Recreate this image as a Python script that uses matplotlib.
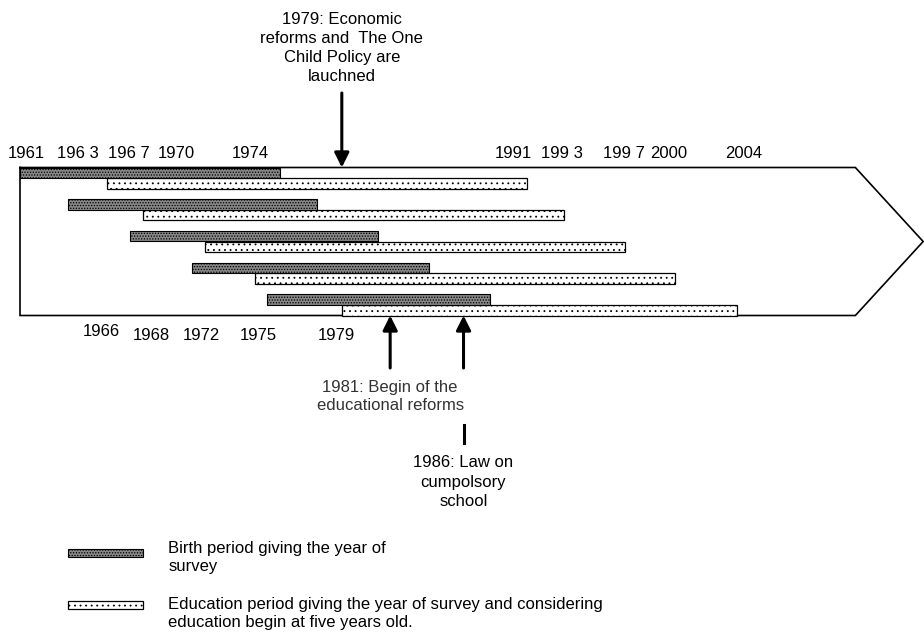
import matplotlib
matplotlib.use("Agg")
import matplotlib.pyplot as plt

plt.rcParams['font.family'] = ['Liberation Sans', 'DejaVu Sans']
plt.rcParams['hatch.linewidth'] = 0.6

# survey rows: birth period and education period (years)
birth_start = [1961.0, 1963.9, 1967.6, 1971.3, 1975.8]
birth_end = [1976.6, 1978.8, 1982.5, 1985.5, 1989.2]
edu_start = [1966.2, 1968.4, 1972.1, 1975.1, 1980.3]
edu_end = [1991.4, 1993.6, 1997.3, 2000.3, 2004.0]

top_labels = ['1961', '196 3', '196 7', '1970', '1974', '1991', '199 3', '199 7', '2000', '2004']
top_label_pos = [1961.4, 1964.5, 1967.5, 1970.4, 1974.8, 1990.6, 1993.5, 1997.2, 1999.9, 2004.4]
bottom_labels = ['1966', '1968', '1972', '1975', '1979']
bottom_label_pos = [1965.9, 1968.9, 1971.9, 1975.3, 1980.0]

# policy events: arrow position on the timeline
event_reform = 1980.3      # 1979 economic reforms / one child policy
event_edu = 1983.2         # 1981 educational reforms
event_law = 1987.6         # 1986 compulsory school law

# layout (pixels, y axis runs downwards)
PX_PER_YEAR = 16.674
x_lo = 1961 - 20 / PX_PER_YEAR
x_hi = x_lo + 924 / PX_PER_YEAR
ROW0 = 167.5
ROW_STEP = 31.7
BAR_H = 10.6

birth_style = dict(facecolor='#868686', edgecolor='black', hatch='......', linewidth=0.8)
edu_style = dict(facecolor='white', edgecolor='black', hatch='...', linewidth=0.9)

fig = plt.figure(figsize=(9.24, 6.39), dpi=100)
ax = fig.add_axes([0, 0, 1, 1])
ax.set_xlim(x_lo, x_hi)
ax.set_ylim(639, 0)
ax.axis('off')

# arrow shaped frame
frame_bottom = ROW0 + 4 * ROW_STEP + 2 * BAR_H
shoulder = 2011.1
ax.plot([1961, shoulder, x_hi - 0.05, shoulder, 1961, 1961],
        [ROW0, ROW0, (ROW0 + frame_bottom) / 2, frame_bottom, frame_bottom, ROW0],
        color='black', lw=1.2, zorder=1, solid_joinstyle='miter')

rows = range(len(birth_start))
birth_y = [ROW0 + i * ROW_STEP for i in rows]
edu_y = [y + BAR_H for y in birth_y]
ax.barh(birth_y, [e - s for s, e in zip(birth_start, birth_end)], left=birth_start,
        height=BAR_H, align='edge', zorder=3, **birth_style)
ax.barh(edu_y, [e - s for s, e in zip(edu_start, edu_end)], left=edu_start,
        height=BAR_H, align='edge', zorder=2, **edu_style)

for lab, x in zip(top_labels, top_label_pos):
    ax.text(x, 153, lab, ha='center', va='center', fontsize=12)
for i, (lab, x) in enumerate(zip(bottom_labels, bottom_label_pos)):
    ax.text(x, 332 if i == 0 else 335, lab, ha='center', va='center', fontsize=12)

arrow = dict(arrowstyle='-|>', lw=2.2, color='black', mutation_scale=22,
             shrinkA=0, shrinkB=0)
ax.annotate('', xy=(event_reform, ROW0), xytext=(event_reform, 93), arrowprops=arrow)
ax.annotate('', xy=(event_edu, frame_bottom), xytext=(event_edu, 368), arrowprops=arrow)
ax.annotate('', xy=(event_law, frame_bottom), xytext=(event_law, 368), arrowprops=arrow)
ax.plot([event_law, event_law], [425, 443], color='black', lw=2.2)

ax.text(event_reform, 48, '1979: Economic\nreforms and  The One\nChild Policy are\nlauchned',
        ha='center', va='center', fontsize=12, linespacing=1.36)
ax.text(event_edu, 396.5, '1981: Begin of the\neducational reforms',
        ha='center', va='center', fontsize=12, linespacing=1.3, color='#333333')
ax.text(event_law, 482, '1986: Law on\ncumpolsory\nschool',
        ha='center', va='center', fontsize=12, linespacing=1.36)

# legend
sw_x0 = 1963.9
sw_w = 4.5
ax.barh([549], [sw_w], left=sw_x0, height=8, align='edge', **birth_style)
ax.barh([601], [sw_w], left=sw_x0, height=8, align='edge', **edu_style)
ax.text(1969.9, 557.5, 'Birth period giving the year of\nsurvey',
        ha='left', va='center', fontsize=12, linespacing=1.25)
ax.text(1969.9, 614, 'Education period giving the year of survey and considering\n'
        'education begin at five years old.',
        ha='left', va='center', fontsize=12, linespacing=1.25)

fig.savefig('out.png', dpi=100)
